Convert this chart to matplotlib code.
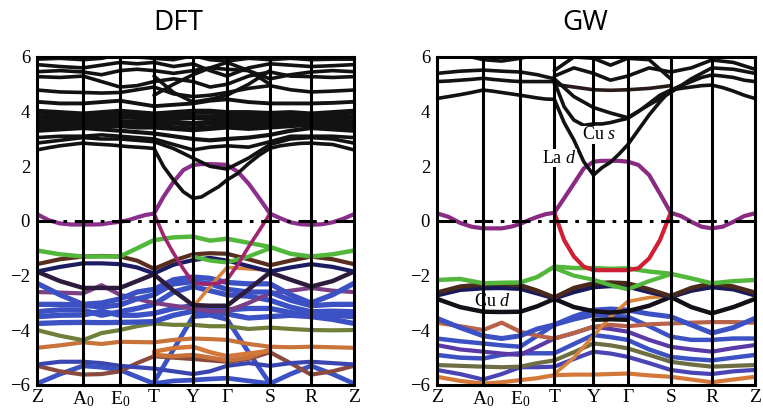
import numpy as np
import matplotlib
matplotlib.use("Agg")
import matplotlib.pyplot as plt

plt.rcParams["font.family"] = ["Liberation Serif", "DejaVu Serif"]
plt.rcParams["mathtext.fontset"] = "custom"
plt.rcParams["mathtext.rm"] = "Liberation Serif"
plt.rcParams["mathtext.it"] = "Liberation Serif:italic"

nan = np.nan

# high-symmetry path: Z A0 E0 T Y Gamma S R Z
k_ticks = [0, 46, 83, 117, 156, 190, 233, 274, 317]
k_labels = ["Z", "A$_0$", "E$_0$", "T", "Y", "Γ", "S", "R", "Z"]
e_ticks = [-6, -4, -2, 0, 2, 4, 6]
# coarse grid: one midpoint per segment
k_path = [0, 23, 46, 64.5, 83, 100, 117, 136.5, 156, 173, 190, 211.5, 233, 253.5, 274, 295.5, 317]
# fine grid: three intermediate points per segment
k_fine = [0, 11.5, 23, 34.5, 46, 55.25, 64.5, 73.75, 83, 91.5, 100, 108.5, 117,
          126.75, 136.5, 146.25, 156, 164.5, 173, 181.5, 190, 200.75, 211.5, 222.25,
          233, 243.25, 253.5, 263.75, 274, 284.75, 295.5, 306.25, 317]

# ---------------- DFT bands (eV) ----------------
dft_c1 = [2.6, 2.68, 2.75, 2.8, 2.85, 2.82, 2.8, 2.78, 2.75, 2.72, 2.7, 2.68, 2.65,
          1.98, 1.5, 1.07, 0.83, 0.88, 1.07, 1.25, 1.5, 1.74, 2.1, 2.41, 2.66,
          2.75, 2.8, 2.84, 2.85, 2.82, 2.8, 2.7, 2.6]
dft_c2 = [2.85, 2.95, 3.05, 3.0, 3.0, 2.95, 2.9, 2.65, 2.3, 2.0, 1.9, 2.3, 2.8, 3.0, 3.05, 3.0, 2.85]
dft_c3 = [3.05, 3.1, 3.1, 3.15, 3.1, 3.05, 3.0, 2.8, 2.6, 2.7, 2.75, 2.7, 2.9, 3.1, 3.1, 3.1, 3.05]
dft_c4 = [3.3, 3.35, 3.4, 3.35, 3.3, 3.25, 3.2, 3.1, 3.0, 2.95, 3.0, 3.05, 3.15, 3.3, 3.4, 3.35, 3.3]
dft_c5 = [3.45, 3.5, 3.55, 3.5, 3.5, 3.45, 3.45, 3.4, 3.35, 3.4, 3.45, 3.4, 3.45, 3.5, 3.55, 3.5, 3.45]
dft_c6 = [3.62, 3.65, 3.7, 3.65, 3.62, 3.6, 3.6, 3.6, 3.55, 3.6, 3.6, 3.6, 3.6, 3.65, 3.7, 3.65, 3.62]
dft_c7 = [3.8, 3.78, 3.75, 3.8, 3.82, 3.8, 3.78, 3.8, 3.8, 3.8, 3.78, 3.8, 3.8, 3.78, 3.75, 3.78, 3.8]
dft_c8 = [4.0, 3.95, 3.9, 3.95, 4.0, 3.95, 3.9, 3.95, 4.0, 4.0, 3.95, 3.95, 3.92, 3.95, 3.9, 3.95, 4.0]
dft_c9 = [4.36, 4.3, 4.3, 4.35, 4.4, 4.3, 4.2, 4.25, 4.3, 4.4, 4.45, 4.35, 4.3, 4.3, 4.3, 4.32, 4.36]
dft_c10 = [4.79, 4.72, 4.7, 4.68, 4.7, 4.8, 4.9, 4.65, 4.55, 4.6, 4.7, 4.85, 4.95, 4.8, 4.72, 4.75, 4.79]
dft_c11 = [5.28, 5.25, 5.3, 5.1, 4.9, 4.95, 5.1, 5.2, 5.1, 4.9, 5.0, 5.3, 5.45, 5.3, 5.28, 5.25, 5.28]
dft_c12 = [5.46, 5.5, 5.45, 5.35, 5.5, 5.55, 5.5, 5.4, 5.5, 5.6, 5.55, 5.5, 5.2, 5.35, 5.45, 5.5, 5.46]
dft_c13 = [5.72, 5.65, 5.6, 5.7, 5.8, 5.75, 5.8, 5.65, 5.75, 5.5, 5.3, 5.6, 5.75, 5.7, 5.65, 5.68, 5.72]
dft_c14 = [5.92, 5.95, 5.9, 5.95, 6.1, 6.0, 5.95, 5.9, 6.05, 5.9, 5.85, 5.95, 5.9, 5.95, 5.9, 5.92, 5.92]
dft_c15 = [nan, nan, nan, nan, nan, nan, 5.3, 4.7, 4.35, 4.45, 4.6, 5.0, 5.5, nan, nan, nan, nan]
dft_c16 = [nan, nan, nan, nan, nan, nan, 4.6, 5.0, 5.35, 5.6, 5.8, 5.5, 5.0, nan, nan, nan, nan]

dft_cb_upper = [0.25, 0.03, -0.09, -0.13, -0.13, -0.13, -0.12, -0.07, -0.03, 0.03, 0.13, 0.22, 0.27,
                0.9, 1.43, 1.86, 2.05, 2.08, 2.08, 2.07, 2.05, 1.8, 1.37, 0.83, 0.27,
                0.1, -0.05, -0.12, -0.14, -0.12, -0.05, 0.08, 0.25]
dft_cb_lower = [nan] * 12 + [0.27, -0.55, -1.18, -1.75, -2.25, -2.3, -2.3, -2.28, -2.15,
                             -1.6, -0.95, -0.35, 0.27] + [nan] * 8

dft_green = [-1.08, -1.22, -1.3, -1.3, -1.3, -1.0, -0.7, -0.6, -0.57, -0.72, -0.65, -0.8, -0.95, -1.2, -1.3, -1.22, -1.08]
dft_green2 = [nan, nan, nan, nan, nan, nan, nan, nan, -1.3, -1.45, -1.52, -1.3, -1.0, nan, nan, nan, nan]
dft_brown = [-1.58, -1.4, -1.3, -1.28, -1.3, -1.45, -1.75, -1.45, -1.22, -1.18, -1.2, -1.4, -1.62, -1.45, -1.3, -1.4, -1.58]
dft_navy = [-1.85, -1.68, -1.55, -1.55, -1.58, -1.7, -1.92, -1.6, -1.43, -1.35, -1.45, -1.65, -1.85, -1.7, -1.58, -1.68, -1.85]
dft_dark = [-1.85, -2.2, -2.45, -2.45, -2.45, -2.2, -1.95, -2.55, -3.08, -3.1, -3.1, -2.5, -1.88, -2.15, -2.4, -2.2, -1.85]
dft_orange_rise = [nan, nan, nan, nan, nan, nan, nan, nan, -3.15, -2.4, -1.7, -1.75, -1.8, nan, nan, nan, nan]
dft_mauve = [-2.6, -2.62, -2.65, -2.35, -2.7, -2.85, -3.0, -3.1, -3.2, -3.3, -3.3, -3.0, -2.65, -2.55, -2.45, -2.55, -2.6]
dft_blue1 = [-2.28, -2.7, -3.05, -3.0, -2.85, -2.6, -2.5, -2.15, -2.05, -2.1, -2.25, -2.3, -2.3, -2.7, -3.0, -2.7, -2.28]
dft_blue2 = [-3.05, -3.05, -3.08, -3.15, -3.07, -2.85, -2.7, -2.3, -2.22, -2.3, -2.5, -2.6, -2.6, -2.9, -3.1, -3.05, -3.05]
dft_blue3 = [-3.32, -3.25, -3.26, -3.45, -3.32, -3.2, -3.05, -2.6, -2.4, -2.55, -2.7, -2.75, -2.9, -3.15, -3.32, -3.3, -3.32]
dft_blue4 = [-3.5, -3.45, -3.44, -3.3, -3.45, -3.45, -3.38, -3.2, -3.1, -3.15, -3.25, -3.2, -3.2, -3.35, -3.44, -3.45, -3.5]
dft_blue5 = [-3.75, -3.72, -3.71, -3.72, -3.71, -3.7, -3.68, -3.45, -3.3, -3.35, -3.4, -3.55, -3.5, -3.45, -3.5, -3.6, -3.75]
dft_olive = [-3.99, -4.2, -4.36, -4.1, -3.99, -3.85, -3.75, -3.8, -3.8, -3.85, -3.85, -3.95, -3.9, -3.95, -3.99, -4.0, -3.99]
dft_orange1 = [-4.64, -4.55, -4.44, -4.5, -4.42, -4.43, -4.44, -4.35, -4.3, -4.32, -4.35, -4.5, -4.6, -4.62, -4.6, -4.62, -4.64]
dft_orange2 = [nan, nan, nan, nan, nan, nan, -4.78, -4.65, -4.6, -4.8, -4.95, -4.85, -4.75, nan, nan, nan, nan]
dft_orange3 = [nan, nan, nan, nan, nan, nan, -4.9, -4.95, -4.9, -5.0, -5.1, -5.0, -4.7, nan, nan, nan, nan]
dft_blue6 = [-5.25, -5.15, -5.15, -5.2, -5.3, -5.35, -5.4, -5.5, -5.6, -5.5, -5.3, -5.2, -5.3, -5.2, -5.15, -5.2, -5.25]
dft_rust = [-5.3, -5.5, -5.62, -5.6, -5.5, -5.2, -4.95, -5.0, -5.05, -5.1, -5.15, -5.05, -4.8, -5.2, -5.62, -5.5, -5.3]
dft_blue7 = [-5.95, -5.6, -5.3, -5.35, -5.45, -5.7, -5.95, -5.85, -5.82, -5.78, -5.75, -5.85, -5.95, -5.6, -5.3, -5.6, -5.95]
dft_blue8 = [nan, nan, nan, nan, nan, nan, -5.9, -4.7, -3.5, -3.45, -3.6, -4.8, -5.95, nan, nan, nan, nan]

# ---------------- GW bands (eV) ----------------
gw_c1 = [4.48, 4.55, 4.62, 4.7, 4.79, 4.75, 4.7, 4.65, 4.6, 4.55, 4.5, 4.46, 4.45,
         3.6, 2.96, 2.17, 1.68, 1.95, 2.15, 2.45, 2.78, 3.33, 3.88, 4.36, 4.79,
         4.85, 4.9, 4.95, 4.97, 4.88, 4.75, 4.6, 4.48]
gw_c2 = [5.1, 5.12, 5.15, 5.18, 5.22, 5.18, 5.15, 5.12, 5.1, 5.1, 5.1, 5.1, 5.1,
         4.18, 3.69, 3.5, 3.55, 3.55, 3.6, 3.68, 3.75, 4.0, 4.3, 4.6, 4.79,
         4.95, 5.1, 5.25, 5.34, 5.3, 5.25, 5.15, 5.1]
gw_c3 = [5.4, 5.48, 5.52, 5.48, 5.45, 5.35, 5.2, 4.55, 4.15, 3.95, 3.78, 4.25, 4.7, 5.2, 5.6, 5.55, 5.4]
gw_c4 = [nan, nan, nan, nan, nan, nan, 5.0, 4.9, 4.8, 4.78, 4.8, 4.85, 4.95, nan, nan, nan, nan]
gw_c5 = [nan, nan, nan, nan, nan, nan, 5.3, 5.6, 5.4, 5.15, 5.3, 5.6, 5.45, 5.6, 5.89, 5.8, 5.55]
gw_c6 = [nan, 6.1, 5.9, 5.85, 5.95, 6.1, nan, nan, nan, nan, nan, nan, nan, nan, nan, nan, nan]
gw_c7 = [nan, nan, nan, nan, nan, nan, 5.5, 6.0, 5.95, 5.7, 5.95, 5.9, 5.2, nan, nan, nan, nan]

gw_cb_upper = [0.28, 0.15, -0.07, -0.21, -0.27, -0.27, -0.27, -0.21, -0.11, 0.03, 0.15, 0.25, 0.3,
               0.83, 1.37, 1.92, 2.17, 2.2, 2.2, 2.2, 2.17, 2.05, 1.68, 1.0, 0.3,
               0.18, -0.03, -0.21, -0.27, -0.21, -0.03, 0.18, 0.28]
gw_cb_lower = [nan] * 12 + [0.3, -0.7, -1.3, -1.67, -1.8, -1.8, -1.8, -1.8, -1.8,
                            -1.73, -1.37, -0.7, 0.3] + [nan] * 8

gw_green = [-2.16, -2.12, -2.28, -2.26, -2.25, -2.05, -1.67, -1.72, -1.72, -1.75, -1.73, -1.85, -1.93, -2.1, -2.28, -2.2, -2.16]
gw_green2 = [nan, nan, nan, nan, nan, nan, -1.72, -2.0, -2.15, -2.35, -2.5, -2.2, -1.95, nan, nan, nan, nan]
gw_brown = [-2.62, -2.4, -2.32, -2.3, -2.35, -2.55, -2.8, -2.45, -2.28, -2.25, -2.28, -2.5, -2.75, -2.45, -2.28, -2.4, -2.62]
gw_navy = [-2.72, -2.52, -2.46, -2.45, -2.48, -2.65, -2.83, -2.6, -2.42, -2.38, -2.4, -2.6, -2.78, -2.55, -2.42, -2.5, -2.72]
gw_black = [-2.85, -3.15, -3.32, -3.33, -3.32, -3.12, -2.85, -3.15, -3.3, -3.35, -3.3, -3.1, -2.78, -3.15, -3.38, -3.15, -2.85]
gw_black2 = [nan, nan, nan, nan, nan, nan, nan, nan, -3.62, -3.6, -3.62, nan, nan, nan, nan, nan, nan]
gw_orange_rise = [nan, nan, nan, nan, nan, nan, -5.6, -5.0, -4.2, -3.5, -2.95, -2.8, -2.75, nan, nan, nan, nan]
gw_blue1 = [-3.56, -3.9, -4.2, -4.3, -4.2, -3.95, -3.8, -3.5, -3.26, -3.22, -3.26, -3.4, -3.5, -3.8, -4.1, -3.9, -3.56]
gw_orange1 = [-3.72, -3.85, -3.99, -3.72, -4.05, -4.2, -4.3, -4.1, -3.87, -3.8, -3.85, -3.78, -3.75, -3.72, -3.7, -3.7, -3.72]
gw_blue2 = [-4.3, -4.4, -4.48, -4.55, -4.6, -4.2, -3.8, -3.6, -3.44, -3.47, -3.5, -3.85, -4.23, -4.35, -4.35, -4.3, -4.3]
gw_violet = [-4.54, -4.7, -4.78, -4.85, -4.9, -4.6, -4.3, -4.1, -3.87, -3.95, -4.05, -4.35, -4.6, -4.7, -4.78, -4.65, -4.54]
gw_blue3 = [-4.9, -5.0, -5.03, -4.9, -4.84, -4.84, -4.84, -4.5, -4.17, -4.25, -4.35, -4.7, -4.97, -5.05, -5.1, -5.0, -4.9]
gw_olive = [-5.27, -5.3, -5.33, -5.35, -5.33, -5.2, -5.1, -4.8, -4.48, -4.55, -4.66, -4.9, -5.15, -5.25, -5.33, -5.3, -5.27]
gw_blue4 = [-5.45, -5.6, -5.8, -5.6, -5.35, -5.35, -5.33, -5.05, -4.78, -4.85, -4.97, -5.2, -5.45, -5.55, -5.6, -5.5, -5.45]
gw_orange2 = [-5.7, -5.85, -5.95, -5.9, -5.82, -5.75, -5.64, -5.62, -5.62, -5.6, -5.58, -5.65, -5.7, -5.8, -5.9, -5.8, -5.7]

BLACK = "#121212"
BLUE = "#3c52c4"
GREEN = "#52b83c"
ORANGE = "#d4783a"

dft_bands = [
    (dft_blue8, BLUE, 3.4), (dft_blue7, BLUE, 3.4), (dft_rust, "#8a4a3e", 3.0), (dft_blue6, "#3a45b0", 3.0),
    (dft_orange3, "#c8703a", 3.2), (dft_orange2, ORANGE, 3.2), (dft_orange1, "#c9733a", 3.0),
    (dft_olive, "#6f7f3a", 3.0), (dft_blue5, BLUE, 3.8), (dft_blue4, BLUE, 3.8), (dft_blue3, BLUE, 3.8),
    (dft_mauve, "#7a3f86", 3.0), (dft_blue2, BLUE, 3.8), (dft_blue1, BLUE, 3.8), (dft_orange_rise, "#d8843a", 2.6),
    (dft_dark, "#2e1c3c", 3.2), (dft_navy, "#1c1c62", 3.0), (dft_brown, "#5a2e1e", 3.0),
    (dft_green2, GREEN, 3.0), (dft_green, GREEN, 3.2), (dft_cb_lower, "#a0246e", 2.6), (dft_cb_upper, "#8c2f8c", 3.0),
    (dft_c16, BLACK, 2.6), (dft_c15, BLACK, 2.6), (dft_c14, BLACK, 2.6), (dft_c13, BLACK, 2.6), (dft_c12, BLACK, 2.6),
    (dft_c11, BLACK, 2.6), (dft_c10, BLACK, 2.6), (dft_c9, BLACK, 2.8), (dft_c8, BLACK, 4.2), (dft_c7, BLACK, 4.2),
    (dft_c6, BLACK, 4.2), (dft_c5, BLACK, 4.2), (dft_c4, BLACK, 3.0), (dft_c3, BLACK, 2.6), (dft_c2, BLACK, 2.6),
    (dft_c1, BLACK, 2.6),
]

gw_bands = [
    (gw_orange2, ORANGE, 3.0), (gw_blue4, "#4a44b4", 3.0), (gw_olive, "#6e6e44", 3.0), (gw_blue3, BLUE, 3.2),
    (gw_violet, "#5a3aa6", 3.0), (gw_blue2, BLUE, 3.2), (gw_orange1, "#b8624a", 3.0), (gw_blue1, BLUE, 3.6),
    (gw_orange_rise, "#d8843a", 2.6), (gw_black2, BLACK, 3.0),
    (gw_black, "#141018", 3.2), (gw_navy, "#1a1a5a", 3.2), (gw_brown, "#4a2a1c", 3.2),
    (gw_green2, GREEN, 3.0), (gw_green, GREEN, 3.2), (gw_cb_lower, "#d01e34", 3.0), (gw_cb_upper, "#8a2a82", 3.0),
    (gw_c7, BLACK, 2.6), (gw_c6, BLACK, 2.6), (gw_c5, BLACK, 2.6), (gw_c4, "#2a1a1a", 2.6),
    (gw_c3, BLACK, 2.6), (gw_c2, BLACK, 2.6), (gw_c1, BLACK, 2.6),
]

fig = plt.figure(figsize=(7.63, 4.08), dpi=100)
ax_dft = fig.add_axes([0.0485, 0.0564, 0.4155, 0.804])
ax_gw = fig.add_axes([0.5727, 0.0564, 0.4168, 0.804])

SERIF = ["Liberation Serif", "DejaVu Serif"]


def draw_panel(ax, bands):
    for vals, color, lw in bands:
        kk = k_fine if len(vals) == len(k_fine) else k_path
        ax.plot(kk, vals, color=color, lw=lw, solid_capstyle="round",
                solid_joinstyle="round", zorder=2)
    for kt in k_ticks[1:-1]:
        ax.axvline(kt, color="black", lw=2.2, zorder=3)
    ax.axhline(0, color="black", lw=2.2, linestyle=(0, (6, 2.5, 1.2, 2.5)), zorder=4)
    ax.set_xlim(k_ticks[0], k_ticks[-1])
    ax.set_ylim(-6, 6)
    ax.set_xticks(k_ticks)
    ax.set_xticklabels(k_labels, fontsize=14, family=SERIF)
    ax.set_yticks(e_ticks)
    ax.set_yticklabels(["\u2212%d" % -v if v < 0 else "%d" % v for v in e_ticks],
                       fontsize=13.5, family=SERIF)
    ax.tick_params(axis="y", length=0, pad=5)
    ax.tick_params(axis="x", length=0, pad=3)
    for sp in ax.spines.values():
        sp.set_linewidth(2.2)
        sp.set_zorder(5)


draw_panel(ax_dft, dft_bands)
draw_panel(ax_gw, gw_bands)

fig.text(178 / 763, 1 - 23 / 408, "DFT", family="Open Sans", fontsize=20,
         ha="center", va="center")
fig.text(585 / 763, 1 - 23 / 408, "GW", family="Open Sans", fontsize=20,
         ha="center", va="center")

box = dict(facecolor="white", edgecolor="none", pad=0.5)
ax_gw.text(161, 3.15, r"Cu $\mathit{s}$", fontsize=13, ha="center", va="center", bbox=box, zorder=6)
ax_gw.text(122, 2.3, r"La $\mathit{d}$", fontsize=13, ha="center", va="center", bbox=box, zorder=6)
ax_gw.text(55, -2.95, r"Cu $\mathit{d}$", fontsize=13, ha="center", va="center", zorder=6)

fig.savefig("out.png", dpi=100)
